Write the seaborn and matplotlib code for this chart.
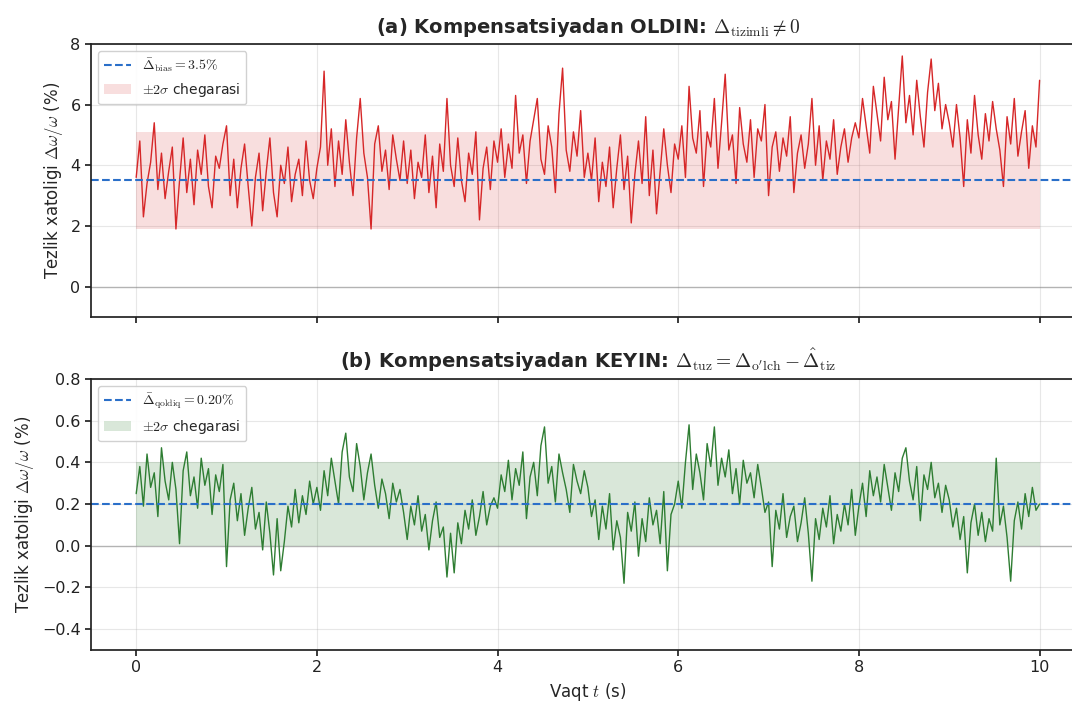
import numpy as np
import pandas as pd
import seaborn as sns
import matplotlib
matplotlib.use("Agg")
import matplotlib.pyplot as plt

# tezlik xatoligi (%), har 0.04 s da o'qilgan qiymatlar
err_before = [
    3.6, 4.8, 2.3, 3.4, 4.1, 5.4, 3.2, 4.4, 2.9, 3.8, 4.6, 1.9, 3.5, 4.9, 3.1, 4.2, 2.7, 4.5, 3.7, 5.0, 3.3, 2.6, 4.3, 3.9, 4.7,
    5.3, 3.0, 4.2, 2.6, 3.9, 4.7, 3.3, 2.0, 3.6, 4.4, 2.5, 3.8, 4.9, 3.1, 2.3, 4.0, 3.4, 4.6, 2.8, 3.7, 4.2, 3.0, 4.8, 3.5, 2.9,
    3.9, 4.6, 7.1, 4.0, 5.2, 3.3, 4.8, 3.7, 5.5, 4.1, 3.0, 4.9, 6.2, 4.4, 3.6, 1.9, 4.7, 5.3, 3.8, 4.5, 3.2, 5.0, 4.2, 3.5, 4.8,
    3.4, 4.5, 2.9, 4.1, 3.6, 5.0, 3.1, 4.3, 2.6, 4.7, 3.8, 6.2, 4.0, 3.3, 4.9, 3.5, 2.8, 4.4, 3.7, 5.1, 2.2, 3.9, 4.6, 3.2, 4.8,
    4.1, 5.2, 3.6, 4.7, 3.9, 6.3, 4.4, 5.0, 3.4, 4.8, 5.5, 6.2, 4.2, 3.7, 5.3, 4.6, 3.1, 5.7, 7.2, 4.5, 3.8, 5.1, 4.3, 5.8, 3.6,
    4.4, 3.5, 4.9, 2.8, 4.1, 3.3, 4.6, 2.6, 3.9, 5.0, 3.2, 4.3, 2.1, 3.7, 4.8, 3.4, 5.6, 3.0, 4.5, 2.4, 3.8, 5.2, 4.0, 3.1, 4.7,
    4.2, 5.3, 3.6, 6.6, 4.9, 4.4, 5.8, 3.3, 5.1, 4.6, 6.2, 3.9, 5.4, 7.0, 4.5, 5.0, 3.4, 5.9, 4.7, 4.1, 5.5, 3.6, 5.2, 4.8, 6.0,
    3.0, 4.6, 5.1, 3.8, 4.9, 4.3, 5.6, 3.1, 4.4, 5.0, 3.9, 4.7, 6.2, 4.0, 5.3, 3.5, 4.8, 4.2, 5.5, 3.7, 4.6, 5.2, 4.1, 4.9, 5.4,
    4.9, 6.2, 5.3, 4.4, 6.6, 5.7, 4.8, 6.9, 5.5, 6.1, 4.2, 5.9, 7.6, 5.4, 6.3, 5.0, 6.8, 5.6, 4.6, 6.4, 7.5, 5.8, 6.7, 5.2, 6.0,
    5.4, 4.6, 6.0, 4.9, 3.3, 5.5, 4.4, 6.3, 5.0, 4.2, 5.7, 4.8, 6.1, 5.2, 4.5, 3.3, 5.6, 4.7, 6.2, 4.3, 5.1, 5.8, 3.9, 5.3, 4.6, 6.8,
]
err_after = [
    0.25, 0.38, 0.19, 0.44, 0.28, 0.35, 0.14, 0.47, 0.31, 0.22, 0.40, 0.27, 0.01, 0.36, 0.45, 0.24, 0.33, 0.18, 0.42, 0.29, 0.37, 0.15, 0.34, 0.26, 0.39,
    -0.10, 0.22, 0.30, 0.12, 0.25, 0.05, 0.18, 0.28, 0.08, 0.16, -0.02, 0.21, 0.06, -0.14, 0.13, -0.12, 0.02, 0.19, 0.09, 0.27, 0.11, 0.24, 0.15, 0.31, 0.20,
    0.28, 0.17, 0.36, 0.24, 0.42, 0.31, 0.20, 0.45, 0.54, 0.33, 0.26, 0.49, 0.38, 0.22, 0.35, 0.44, 0.29, 0.18, 0.32, 0.25, 0.13, 0.30, 0.21, 0.27, 0.16,
    0.03, 0.19, 0.10, 0.24, 0.07, 0.15, -0.02, 0.12, 0.21, 0.04, 0.09, -0.15, 0.06, -0.13, 0.11, 0.01, 0.17, 0.08, 0.22, 0.05, 0.14, 0.26, 0.10, 0.19, 0.23,
    0.18, 0.34, 0.26, 0.41, 0.22, 0.37, 0.29, 0.45, 0.13, 0.33, 0.40, 0.24, 0.48, 0.57, 0.30, 0.38, 0.21, 0.44, 0.35, 0.27, 0.16, 0.39, 0.31, 0.25, 0.36,
    0.28, 0.14, 0.22, 0.03, 0.19, 0.08, 0.25, -0.02, 0.12, 0.04, -0.18, 0.16, 0.07, 0.21, -0.05, 0.13, 0.02, 0.23, 0.10, 0.17, 0.01, 0.26, -0.12, 0.15, 0.20,
    0.31, 0.18, 0.40, 0.58, 0.27, 0.44, 0.35, 0.22, 0.49, 0.38, 0.57, 0.29, 0.42, 0.33, 0.46, 0.25, 0.37, 0.20, 0.41, 0.30, 0.35, 0.23, 0.39, 0.28, 0.16,
    0.21, -0.10, 0.17, 0.08, 0.25, 0.04, 0.14, 0.19, 0.02, 0.11, 0.23, 0.06, -0.17, 0.13, 0.03, 0.18, 0.09, 0.24, 0.01, 0.15, 0.07, 0.20, 0.10, 0.27, 0.05,
    0.19, 0.30, 0.14, 0.36, 0.24, 0.33, 0.21, 0.39, 0.28, 0.17, 0.35, 0.26, 0.42, 0.47, 0.31, 0.22, 0.38, 0.12, 0.34, 0.27, 0.40, 0.23, 0.30, 0.16, 0.29,
    0.22, 0.09, 0.18, 0.03, 0.14, -0.13, 0.11, 0.20, 0.05, 0.16, 0.02, 0.13, 0.07, 0.42, 0.10, 0.19, 0.04, -0.17, 0.12, 0.21, 0.08, 0.25, 0.14, 0.28, 0.17, 0.20,
]
t = np.linspace(0, 10, len(err_before))

bias_mean = 3.5
bias_sigma = 0.8
resid_mean = 0.20
resid_sigma = 0.10

titles = [
    r"(a) Kompensatsiyadan OLDIN: $\Delta_{\rm tizimli} \neq 0$",
    r"(b) Kompensatsiyadan KEYIN: $\Delta_{\rm tuz} = \Delta_{\rm o'lch} - \hat{\Delta}_{\rm tiz}$",
]
mean_labels = [r"$\bar{\Delta}_{\rm bias} = 3.5\%$", r"$\bar{\Delta}_{\rm qoldiq} = 0.20\%$"]
band_label = r"$\pm 2\sigma$ chegarasi"
ylabel = r"Tezlik xatoligi $\Delta\omega/\omega$ (%)"
xlabel = r"Vaqt $t$ (s)"

sns.set_theme(style="ticks")
plt.rcParams['font.family'] = ['DejaVu Sans']
plt.rcParams['mathtext.fontset'] = 'cm'
plt.rcParams['axes.edgecolor'] = '#222222'
plt.rcParams['xtick.color'] = '#222222'
plt.rcParams['ytick.color'] = '#222222'

df = pd.DataFrame({"t": t, "before": err_before, "after": err_after})

fig = plt.figure(figsize=(10.72, 7.04), dpi=100)
# o'ng chegara rasmdan tashqarida (asl rasm kesilgan)
ax1 = fig.add_axes([0.0849, 0.5497, 0.927, 0.388])
ax2 = fig.add_axes([0.0849, 0.0767, 0.927, 0.385], sharex=ax1)

panels = [
    (ax1, "before", "#d62728", "#d62728", bias_mean, bias_sigma, (-1, 8), [0, 2, 4, 6, 8]),
    (ax2, "after", "#2e7d32", "darkgreen", resid_mean, resid_sigma, (-0.5, 0.8), [-0.4, -0.2, 0.0, 0.2, 0.4, 0.6, 0.8]),
]
for i, (ax, col, lc, fc, m, s, yl, yt) in enumerate(panels):
    ax.grid(True, alpha=0.3, color='#b0b0b0', lw=0.8)
    ax.axhline(0, color='gray', lw=1.0, alpha=0.5)
    ax.fill_between([0, 10], m - 2 * s, m + 2 * s, color=fc, alpha=0.15, lw=0, label=band_label)
    sns.lineplot(data=df, x="t", y=col, ax=ax, color=lc, lw=1.0, legend=False)
    ax.axhline(m, color='#2a6fc9', ls='--', lw=1.5, label=mean_labels[i])
    ax.set_ylim(*yl)
    ax.set_yticks(yt)
    ax.set_xlim(-0.5, 10.5)
    ax.set_title(titles[i], fontsize=14, fontweight='bold', pad=8)
    ax.set_ylabel(ylabel, fontsize=12)
    ax.set_xlabel("")
    ax.tick_params(labelsize=11.5, length=4)
    ax.spines['right'].set_visible(False)
    h, l = ax.get_legend_handles_labels()
    ax.legend([h[1], h[0]], [l[1], l[0]], loc='upper left', fontsize=10, frameon=True, framealpha=0.9)

ax1.tick_params(labelbottom=False)
ax2.set_xticks([0, 2, 4, 6, 8, 10])
ax2.set_xlabel(xlabel, fontsize=12)

fig.savefig("out.png", dpi=100)
